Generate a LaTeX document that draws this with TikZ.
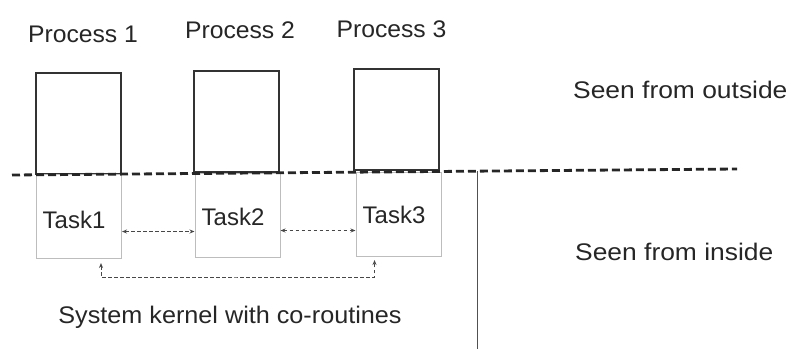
\documentclass[tikz,border=0pt]{standalone}
\usepackage{fontspec}
\setmainfont{Liberation Sans}
\newfontfamily\sansA[FakeStretch=1.03]{Liberation Sans}
\newfontfamily\sansB[FakeStretch=1.05]{Liberation Sans}
\newfontfamily\sansC[FakeStretch=1.1]{Liberation Sans}
\usetikzlibrary{arrows.meta}
\definecolor{ink}{HTML}{262626}
\definecolor{boxline}{HTML}{333333}
\definecolor{taskline}{HTML}{BDBDBD}
\begin{document}
\begin{tikzpicture}[x=1pt,y=-1pt,
  lbl/.style={font=\fontsize{24}{28}\selectfont, text=ink, inner sep=0pt, anchor=base},
  proclbl/.style={lbl, font=\sansA\fontsize{24}{28}\selectfont},
  kernlbl/.style={lbl, font=\sansB\fontsize{24}{28}\selectfont},
  sidelbl/.style={lbl, anchor=base west, font=\sansC\fontsize{24}{28}\selectfont},
  procbox/.style={draw=boxline, line width=1.1pt, inner sep=0pt, minimum width=85pt, minimum height=101pt},
  taskbox/.style={draw=taskline, line width=1pt, inner sep=0pt, minimum width=85pt, minimum height=84pt},
  divider/.style={draw=ink, line width=2.8pt, dash pattern=on 8pt off 4pt},
  link/.style={draw=ink!85, line width=0.9pt, dash pattern=on 3.5pt off 2.5pt,
    {Stealth[length=5pt,width=4pt]}-{Stealth[length=5pt,width=4pt]}}
]
\useasboundingbox (0,0) rectangle (794,349);

% processes seen from outside
\node[procbox] (p1) at (78.5,123.5) {};
\node[procbox] (p2) at (236.5,121.5) {};
\node[procbox] (p3) at (396.5,119.5) {};
\node[proclbl] (n1) at (83,42) {Process 1};
\node[proclbl] (n2) at (240,38) {Process 2};
\node[proclbl] (n3) at (391.5,37) {Process 3};

% tasks inside the kernel
\node[taskbox] (t1) at (79,216.5) {};
\node[taskbox] (t2) at (237.5,215.5) {};
\node[taskbox] (t3) at (398.5,214.5) {};
\node[lbl] (l1) at (74,228) {Task1};
\node[lbl] (l2) at (233,225) {Task2};
\node[lbl] (l3) at (394,223) {Task3};

% boundary between outside and inside
\coordinate (d0) at (12,175);
\coordinate (d1) at (737,169);
\draw[divider] (d0) -- (d1);
\coordinate (k0) at (477,171);
\coordinate (k1) at (477,349);
\draw[draw=ink!80, line width=1pt] (k0) -- (k1);

% task switches
\draw[link] ([yshift=-15pt]t1.east) -- ([yshift=-15pt]t1.east -| t2.west);
\draw[link] ([yshift=-15pt]t2.east) -- ([yshift=-15pt]t2.east -| t3.west);
\coordinate (r) at (237,277);
\draw[link] ([xshift=22pt,yshift=-4pt]t1.south) |- (r)
  -| ([xshift=-24pt,yshift=-3pt]t3.south);

% captions
\node[kernlbl] (k) at (230,323) {System kernel with co-routines};
\node[sidelbl] (so) at (573,98) {Seen from outside};
\node[sidelbl] (si) at (575,260) {Seen from inside};
\end{tikzpicture}
\end{document}
